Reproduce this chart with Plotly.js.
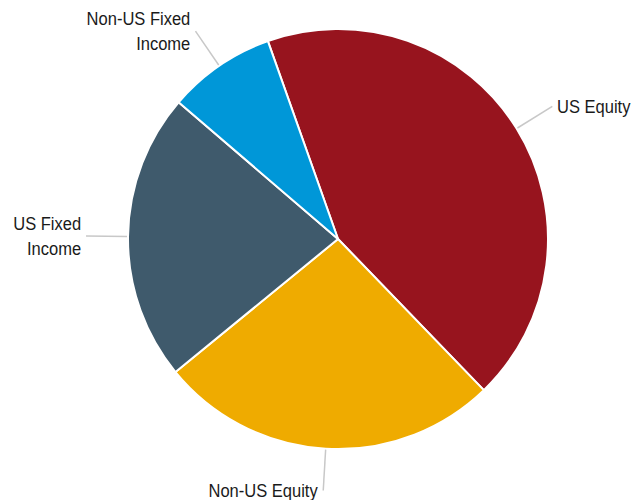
<!DOCTYPE html>
<html>
<head>
<meta charset="utf-8">
<script src="https://cdn.plot.ly/plotly-3.0.1.min.js"></script>
<style>body{margin:0;padding:0;background:#fff}#chart{width:634px;height:500px}</style>
</head>
<body>
<div id="chart"></div>
<script>
// Data
const labels = ["US Equity", "Non-US Equity", "US Fixed Income", "Non-US Fixed Income"];
const displayLabels = ["US Equity", "Non-US Equity", "US Fixed<br>Income", "Non-US Fixed<br>Income"];
const values = [43.2, 26.3, 22.2, 8.3];
const colors = ["#97141e", "#efab00", "#3f5a6c", "#0097d8"];

// Layout constants
const W = 634, H = 500;
const CX = 338, CY = 239, R = 210;
const ROT = -19.5;
const R1 = 211, R2 = 252, GAP = 3;
const SQUEEZE = 0.87;

const trace = {
  type: "pie",
  labels: labels,
  values: values,
  marker: {colors: colors, line: {color: "#ffffff", width: 2}},
  sort: false,
  direction: "clockwise",
  rotation: ROT,
  textinfo: "none",
  hoverinfo: "label+percent",
  showlegend: false,
  domain: {
    x: [(CX - R) / W, (CX + R) / W],
    y: [(H - CY - R) / H, (H - CY + R) / H]
  }
};

const total = values.reduce((a, b) => a + b, 0);
let cum = 0;
const shapes = [], annotations = [], sides = [];
const px = (x) => x / W, py = (y) => (H - y) / H;
values.forEach((v, i) => {
  const mid = (ROT + (cum + v / 2) / total * 360) * Math.PI / 180;
  cum += v;
  const s = Math.sin(mid), c = Math.cos(mid);
  const x1 = CX + R1 * s, y1 = CY - R1 * c;
  const x2 = CX + R2 * s, y2 = CY - R2 * c;
  shapes.push({type: "line", xref: "paper", yref: "paper",
    x0: px(x1), y0: py(y1), x1: px(x2), y1: py(y2),
    line: {color: "#c8c8c8", width: 1.5}});
  const right = s > 0.05;
  sides.push(right);
  annotations.push({
    xref: "paper", yref: "paper",
    x: px(x2 + (right ? GAP : -GAP)), y: py(y2),
    xanchor: right ? "left" : "right", yanchor: "middle",
    align: right ? "left" : "right",
    text: displayLabels[i], showarrow: false,
    font: {family: "'Liberation Sans Narrow', 'Arial Narrow', 'Liberation Sans', Arial, sans-serif", size: 19, color: "#1a1a1a"}
  });
});

const layout = {
  width: W, height: H,
  margin: {l: 0, r: 0, t: 0, b: 0},
  paper_bgcolor: "#ffffff",
  showlegend: false,
  shapes: shapes,
  annotations: annotations
};

Plotly.newPlot("chart", [trace], layout, {displayModeBar: false, staticPlot: true}).then(function () {
  // emulate a condensed face by squeezing each label horizontally toward its anchor side
  const texts = document.querySelectorAll("#chart .annotation-text");
  texts.forEach(function (t, i) {
    const bb = t.getBBox();
    const ax = sides[i] ? bb.x : bb.x + bb.width;
    t.setAttribute("transform", "translate(" + ax + ",0) scale(" + SQUEEZE + ",1) translate(" + (-ax) + ",0)");
  });
});
</script>
</body>
</html>
